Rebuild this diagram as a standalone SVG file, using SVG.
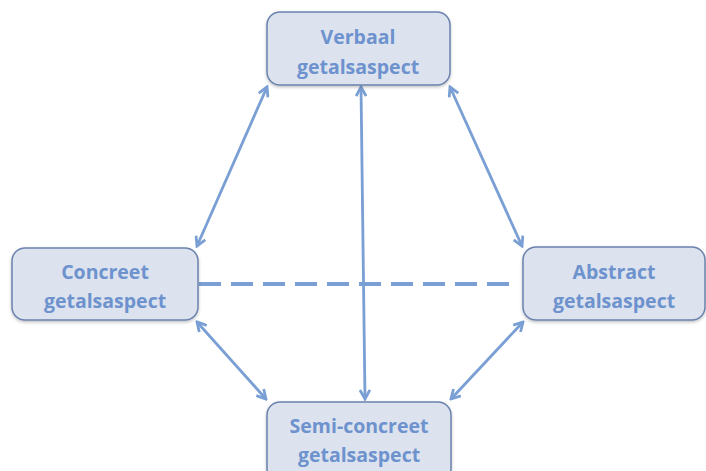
<svg xmlns="http://www.w3.org/2000/svg" width="706" height="471" viewBox="0 0 706 471">
<style>
.box{fill:#dce3ef;stroke:#6b82ad;stroke-width:1.5}
.lbl{font-family:"Open Sans","Liberation Sans",sans-serif;font-weight:bold;font-size:19.5px;fill:#6d92cd;text-anchor:middle}
.con{stroke:#7a9fd4;stroke-width:2.8;fill:none}
</style>
<defs>
<filter id="sh" x="-10%" y="-10%" width="120%" height="130%"><feDropShadow dx="0" dy="1.5" stdDeviation="1.5" flood-color="#000" flood-opacity="0.25"/></filter>
<marker id="ah" viewBox="0 0 12 12" refX="10" refY="6" markerWidth="12" markerHeight="12" markerUnits="userSpaceOnUse" orient="auto-start-reverse">
<path d="M1,1 L10,6 L1,11" fill="none" stroke="#7a9fd4" stroke-width="2.8" stroke-linejoin="miter"/>
</marker>
</defs>
<rect width="706" height="471" fill="#ffffff"/>
<g id="connectors">
<line class="con" x1="267" y1="87" x2="197" y2="246" marker-start="url(#ah)" marker-end="url(#ah)"/>
<line class="con" x1="450" y1="87" x2="522" y2="246" marker-start="url(#ah)" marker-end="url(#ah)"/>
<line class="con" x1="361" y1="87" x2="365" y2="399" marker-start="url(#ah)" marker-end="url(#ah)"/>
<line class="con" x1="197" y1="322" x2="266" y2="399" marker-start="url(#ah)" marker-end="url(#ah)"/>
<line class="con" x1="523" y1="322" x2="451" y2="399" marker-start="url(#ah)" marker-end="url(#ah)"/>
<line x1="199" y1="284" x2="517" y2="284" stroke="#7a9fd4" stroke-width="4" stroke-dasharray="22 10"/>
</g>
<g id="verbaal">
<rect class="box" x="267" y="12" width="183" height="73" rx="13" filter="url(#sh)"/>
<text class="lbl" x="358" y="44">Verbaal</text>
<text class="lbl" x="358" y="74">getalsaspect</text>
</g>
<g id="concreet">
<rect class="box" x="12" y="248" width="186" height="72" rx="13" filter="url(#sh)"/>
<text class="lbl" x="105" y="279">Concreet</text>
<text class="lbl" x="105" y="308">getalsaspect</text>
</g>
<g id="abstract">
<rect class="box" x="523" y="247" width="182" height="73" rx="13" filter="url(#sh)"/>
<text class="lbl" x="614" y="279">Abstract</text>
<text class="lbl" x="614" y="308">getalsaspect</text>
</g>
<g id="semiconcreet">
<rect class="box" x="267" y="402" width="184" height="80" rx="13" filter="url(#sh)"/>
<text class="lbl" x="359" y="433">Semi-concreet</text>
<text class="lbl" x="359" y="462">getalsaspect</text>
</g>
</svg>
